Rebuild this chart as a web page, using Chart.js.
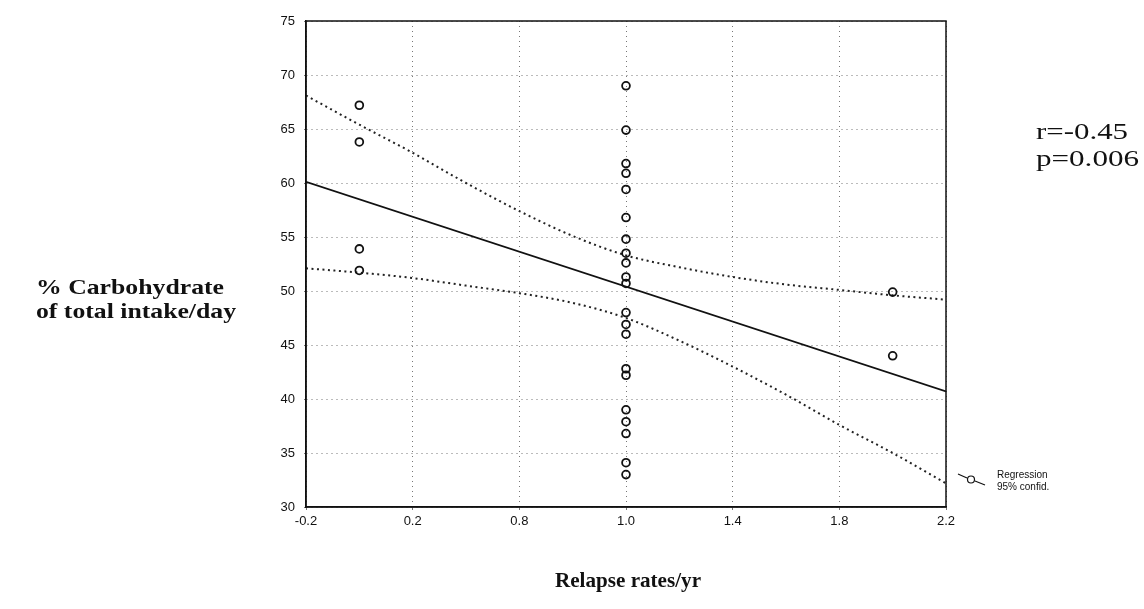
<!DOCTYPE html>
<html>
<head>
<meta charset="utf-8">
<script src="https://cdn.jsdelivr.net/npm/chart.js@4/dist/chart.umd.min.js"></script>
<style>
html,body{margin:0;padding:0;background:#fff;}
#wrap{width:1144px;height:609px;position:relative;}
</style>
</head>
<body>
<div id="wrap"><canvas id="c" width="1144" height="609"></canvas></div>
<script>
// ---- data ----
const xTickValues = [-0.2, 0.2, 0.6, 1.0, 1.4, 1.8, 2.2];
const xTickLabels = ["-0.2", "0.2", "0.8", "1.0", "1.4", "1.8", "2.2"];
const yTickValues = [30, 35, 40, 45, 50, 55, 60, 65, 70, 75];

const pointsX = [0, 0, 0, 0,
  1, 1, 1, 1, 1, 1, 1, 1, 1, 1, 1, 1, 1, 1, 1, 1, 1, 1, 1, 1, 1,
  2, 2];
const pointsY = [67.2, 63.8, 53.9, 51.9,
  69.0, 64.9, 61.8, 60.9, 59.4, 56.8, 54.8, 53.5, 52.6, 51.3, 50.7, 48.0, 46.9, 46.0, 42.8, 42.2, 39.0, 37.9, 36.8, 34.1, 33.0,
  49.9, 44.0];

const regX = [-0.2, 2.2];
const regY = [60.1, 40.7];

const bandX = [-0.2, 0, 0.2, 0.4, 0.6, 0.8, 1.0, 1.2, 1.4, 1.6, 1.8, 2.0, 2.2];
const upperY = [68.1, 65.4, 62.8, 60.0, 57.4, 55.1, 53.3, 52.2, 51.3, 50.6, 50.1, 49.6, 49.2];
const lowerY = [52.1, 51.7, 51.2, 50.5, 49.8, 48.9, 47.5, 45.4, 43.0, 40.4, 37.6, 35.0, 32.2];

const statsText = ["r=-0.45", "p=0.006"];
const yTitle = ["% Carbohydrate", "of total intake/day"];
const xTitle = "Relapse rates/yr";
const legendLines = ["Regression", "95% confid."];

const zip = (xs, ys) => xs.map((x, i) => ({x: x, y: ys[i]}));

function stretchText(ctx, text, x, y, width) {
  const w = ctx.measureText(text).width;
  ctx.save();
  ctx.translate(x, y);
  ctx.scale(width / w, 1);
  ctx.fillText(text, 0, 0);
  ctx.restore();
}

const extras = {
  id: 'extras',
  afterDraw(chart) {
    const ctx = chart.ctx;
    const a = chart.chartArea;
    ctx.save();
    // frame
    ctx.strokeStyle = '#111';
    ctx.lineWidth = 1.5;
    ctx.strokeRect(a.left, a.top, a.right - a.left, a.bottom - a.top);
    // y title
    ctx.fillStyle = '#111';
    ctx.font = 'bold 22px "Liberation Serif", "Times New Roman", serif';
    ctx.textAlign = 'left';
    ctx.textBaseline = 'middle';
    stretchText(ctx, yTitle[0], 36, 288, 188);
    stretchText(ctx, yTitle[1], 36, 312, 200);
    // x title
    ctx.font = 'bold 21px "Liberation Serif", "Times New Roman", serif';
    stretchText(ctx, xTitle, 555, 582, 146);
    // stats
    ctx.font = '23px "Liberation Serif", "Times New Roman", serif';
    stretchText(ctx, statsText[0], 1036, 133, 92);
    stretchText(ctx, statsText[1], 1036, 160, 103);
    // legend
    ctx.strokeStyle = '#111';
    ctx.lineWidth = 1.2;
    ctx.beginPath();
    ctx.moveTo(958, 474);
    ctx.lineTo(967, 478);
    ctx.moveTo(975, 481);
    ctx.lineTo(985, 485);
    ctx.stroke();
    ctx.beginPath();
    ctx.arc(971, 479.5, 3.5, 0, Math.PI * 2);
    ctx.stroke();
    ctx.font = '10px "Liberation Sans", Arial, sans-serif';
    ctx.fillText(legendLines[0], 997, 475);
    ctx.fillText(legendLines[1], 997, 487);
    ctx.restore();
  }
};

new Chart(document.getElementById('c'), {
  type: 'scatter',
  data: {
    datasets: [
      {
        label: 'points',
        data: zip(pointsX, pointsY),
        showLine: false,
        pointStyle: 'circle',
        pointRadius: 3.9,
        pointBorderWidth: 1.8,
        pointBorderColor: '#111',
        pointBackgroundColor: 'rgba(0,0,0,0)'
      },
      {
        label: 'Regression',
        data: zip(regX, regY),
        showLine: true,
        borderColor: '#111',
        borderWidth: 1.7,
        pointRadius: 0,
        fill: false
      },
      {
        label: 'upper',
        data: zip(bandX, upperY),
        showLine: true,
        borderColor: '#222',
        borderWidth: 2,
        borderDash: [2, 3.5],
        cubicInterpolationMode: 'monotone',
        pointRadius: 0,
        fill: false
      },
      {
        label: 'lower',
        data: zip(bandX, lowerY),
        showLine: true,
        borderColor: '#222',
        borderWidth: 2,
        borderDash: [2, 3.5],
        cubicInterpolationMode: 'monotone',
        pointRadius: 0,
        fill: false
      }
    ]
  },
  options: {
    responsive: false,
    animation: false,
    events: [],
    layout: { padding: { left: 256, right: 198, top: 21, bottom: 72 } },
    plugins: { legend: { display: false }, tooltip: { enabled: false } },
    scales: {
      x: {
        type: 'linear',
        min: -0.2, max: 2.2,
        afterBuildTicks(scale) { scale.ticks = xTickValues.map(v => ({value: v})); },
        afterFit(scale) { scale.height = 30; },
        ticks: {
          callback(v) { const i = xTickValues.findIndex(t => Math.abs(t - v) < 1e-6); return i >= 0 ? xTickLabels[i] : ''; },
          color: '#111',
          font: { family: '"Liberation Sans", Arial, sans-serif', size: 13 },
          padding: 4,
          maxRotation: 0
        },
        grid: { color: '#777', lineWidth: 1, tickLength: 3, drawTicks: true },
        border: { display: true, color: '#111', width: 1.5, dash: [1, 4] }
      },
      y: {
        type: 'linear',
        min: 30, max: 75,
        afterBuildTicks(scale) { scale.ticks = yTickValues.map(v => ({value: v})); },
        afterFit(scale) { scale.width = 50; },
        ticks: {
          color: '#111',
          font: { family: '"Liberation Sans", Arial, sans-serif', size: 13 },
          padding: 9
        },
        grid: { color: '#777', lineWidth: 1, tickLength: 2 },
        border: { display: true, color: '#111', width: 1.5, dash: [1, 4] }
      }
    }
  },
  plugins: [extras]
});
</script>
</body>
</html>
